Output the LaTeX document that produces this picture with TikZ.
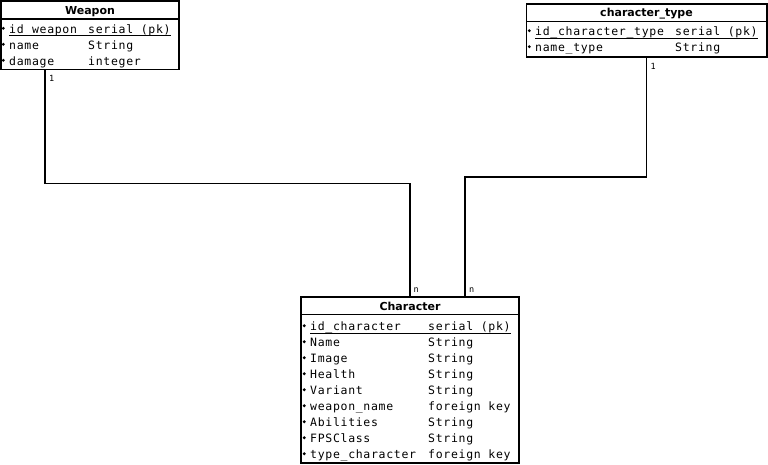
\documentclass[tikz,border=0pt]{standalone}
\usepackage{fontspec}
\newfontfamily\monof[LetterSpace=6]{DejaVu Sans Mono}
\newfontfamily\labf{DejaVu Sans Mono}
\newfontfamily\titlef{DejaVu Sans}
\tikzset{
  tablebox/.style={draw, line width=1.8pt, inner sep=0pt, outer sep=0pt, anchor=north west},
  sepline/.style={line width=1.8pt},
  conn/.style={line width=1.8pt},
  ttl/.style={font=\titlef\bfseries\fontsize{11}{13}\selectfont, anchor=base, inner sep=0pt},
  attr/.style={font=\monof\fontsize{11.5}{14}\selectfont, anchor=base west, inner sep=0pt},
  card/.style={font=\labf\fontsize{8.5}{10}\selectfont, anchor=base west, inner sep=0pt},
  uline/.style={line width=0.9pt},
  bul/.style={fill=black, draw=none}
}
% #1 name prefix, #2 bullet x, #3 col1 x, #4 col2 x, #5 baseline y, #6 text1, #7 text2
\newcommand\erow[7]{%
  \fill[bul] (#2+0.3,#5-5) circle (1.6pt);
  \node[attr] (#1a) at (#3,#5) {#6};
  \node[attr] (#1b) at (#4,#5) {#7};
}
\begin{document}
\begin{tikzpicture}[x=1pt,y=-1pt]
\useasboundingbox (0,0) rectangle (768,464);

% ---------- Weapon ----------
\node[tablebox, minimum width=178pt, minimum height=68.5pt] (weapon) at (1,1) {};
\draw[sepline] (1,19) -- (179,19);
\node[ttl] (weapont) at (90,14) {Weapon};
\erow{wa}{3}{9}{88}{33.3}{id\_weapon}{serial (pk)}
\draw[uline] ([yshift=-2.3pt]waa.base west) -- ([yshift=-2.3pt]wab.base east);
\erow{wb}{3}{9}{88}{49.3}{name}{String}
\erow{wc}{3}{9}{88}{65.3}{damage}{integer}

% ---------- character_type ----------
\node[tablebox, minimum width=240.5pt, minimum height=53pt] (ctype) at (526.5,4) {};
\draw[sepline] (526.5,21.5) -- (767,21.5);
\node[ttl] (ctypet) at (646.5,16.7) {character\_type};
\erow{ta}{529}{535}{675}{35.7}{id\_character\_type}{serial (pk)}
\draw[uline] ([yshift=-2.8pt]taa.base west) -- ([yshift=-2.8pt]tab.base east);
\erow{tb}{529}{535}{675}{51.7}{name\_type}{String}

% ---------- Character ----------
\node[tablebox, minimum width=218pt, minimum height=166pt] (character) at (301,297) {};
\draw[sepline] (301,314.5) -- (519,314.5);
\node[ttl] (charactert) at (410,310) {Character};
\erow{ca}{304}{310}{428}{330.7}{id\_character}{serial (pk)}
\draw[uline] ([yshift=-2.6pt]caa.base west) -- ([yshift=-2.6pt]cab.base east);
\erow{cb}{304}{310}{428}{346.7}{Name}{String}
\erow{cc}{304}{310}{428}{362.7}{Image}{String}
\erow{cd}{304}{310}{428}{378.7}{Health}{String}
\erow{ce}{304}{310}{428}{394.7}{Variant}{String}
\erow{cf}{304}{310}{428}{410.7}{weapon\_name}{foreign key}
\erow{cg}{304}{310}{428}{426.7}{Abilities}{String}
\erow{ch}{304}{310}{428}{442.7}{FPSClass}{String}
\erow{ci}{304}{310}{428}{458.7}{type\_character}{foreign key}

% ---------- connectors ----------
\draw[conn] ([xshift=44pt]weapon.south west) -- ++(0,114) -| ([xshift=109pt]character.north west);
\draw[conn] ([xshift=120pt]ctype.south west) -- ++(0,120) -| ([xshift=164pt]character.north west);

% ---------- cardinalities ----------
\node[card] (c1) at (49,81.5) {1};
\node[card] (c2) at (650.5,69) {1};
\node[card] (c3) at (413.5,292) {n};
\node[card] (c4) at (469,292) {n};
\end{tikzpicture}
\end{document}
